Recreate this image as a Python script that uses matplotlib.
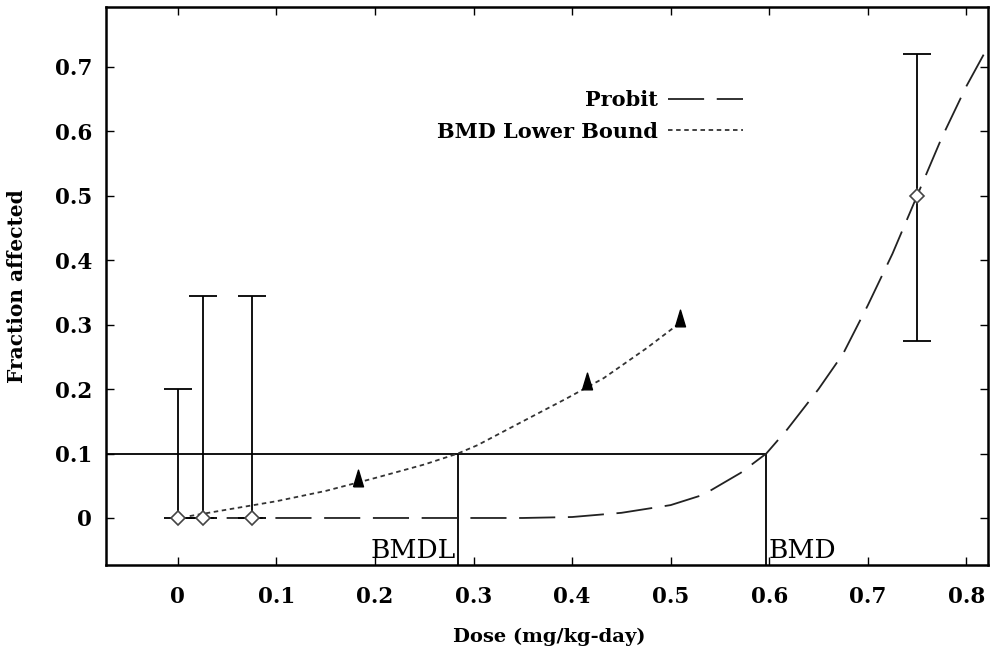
import matplotlib
matplotlib.use("Agg")
import matplotlib.pyplot as plt

# ---- data ----
obs_dose = [0.0, 0.025, 0.075, 0.75]
obs_frac = [0.0, 0.0, 0.0, 0.5]
obs_lower = [0.0, 0.0, 0.0, 0.275]
obs_upper = [0.2, 0.345, 0.345, 0.72]

probit_dose = [0.0, 0.05, 0.1, 0.15, 0.2, 0.25, 0.3, 0.35, 0.4, 0.45, 0.5, 0.533,
               0.571, 0.597, 0.618, 0.65, 0.675, 0.7, 0.725, 0.75, 0.775, 0.8, 0.825]
probit_frac = [0.0, 0.0, 0.0, 0.0, 0.0, 0.0, 0.0, 0.0, 0.0015, 0.008, 0.02, 0.036,
               0.07, 0.1, 0.137, 0.2, 0.255, 0.33, 0.41, 0.5, 0.59, 0.67, 0.74]

lb_dose = [0.012, 0.05, 0.1, 0.15, 0.2, 0.25, 0.284, 0.304, 0.35, 0.395, 0.432, 0.476, 0.507]
lb_frac = [0.003, 0.013, 0.026, 0.042, 0.062, 0.083, 0.1, 0.113, 0.15, 0.186, 0.217, 0.264, 0.3]

tri_dose = [0.183, 0.415, 0.509]
tri_frac = [0.062, 0.212, 0.31]

bmr = 0.1
bmdl = 0.284
bmd = 0.597

xticks = [0, 0.1, 0.2, 0.3, 0.4, 0.5, 0.6, 0.7, 0.8]
xticklabels = ["0", "0.1", "0.2", "0.3", "0.4", "0.5", "0.6", "0.7", "0.8"]
yticks = [0, 0.1, 0.2, 0.3, 0.4, 0.5, 0.6, 0.7]
yticklabels = ["0", "0.1", "0.2", "0.3", "0.4", "0.5", "0.6", "0.7"]

xlim = (-0.073, 0.822)
ylim = (-0.073, 0.793)

plt.rcParams['font.family'] = ['DejaVu Serif']

fig = plt.figure(figsize=(9.93, 6.62), dpi=100)
ax = fig.add_axes([0.1067, 0.1465, 0.8883, 0.8429])
ax.set_xlim(*xlim)
ax.set_ylim(*ylim)

# probit curve
ax.plot(probit_dose, probit_frac, color='#222222', lw=1.3, dashes=(20, 7),
        label='Probit', zorder=3)
# lower bound curve
ax.plot(lb_dose, lb_frac, color='#333333', lw=1.3, dashes=(2.5, 2),
        label='BMD Lower Bound', zorder=3)
tri_marker = [(-0.6, -1.0), (0.6, -1.0), (0.0, 1.0), (-0.6, -1.0)]
ax.plot(tri_dose, tri_frac, linestyle='none', marker=tri_marker, color='black',
        markersize=12, zorder=4)

# observed data with error bars
yerr = [[f - lo for f, lo in zip(obs_frac, obs_lower)],
        [u - f for f, u in zip(obs_frac, obs_upper)]]
ax.errorbar(obs_dose, obs_frac, yerr=yerr, fmt='none', ecolor='black',
            elinewidth=1.3, capsize=10, capthick=1.3, zorder=4)
ax.plot(obs_dose, obs_frac, linestyle='none', marker='D', markersize=7,
        markerfacecolor='white', markeredgecolor='#444444', markeredgewidth=1.2,
        zorder=5)

# BMR / BMD / BMDL lines
ax.hlines(bmr, xlim[0], bmd, color='black', lw=1.3, zorder=2)
ax.vlines([bmdl, bmd], ylim[0], bmr, color='black', lw=1.3, zorder=2)
ax.text(bmdl - 0.002, ylim[0] + 0.011, "BMDL", ha='right', va='baseline', fontsize=19)
ax.text(bmd + 0.002, ylim[0] + 0.011, "BMD", ha='left', va='baseline', fontsize=19)

# ticks
ax.set_xticks(xticks)
ax.set_xticklabels(xticklabels, fontsize=15.5, fontweight='bold')
ax.set_yticks(yticks)
ax.set_yticklabels(yticklabels, fontsize=15.5, fontweight='bold')
ax.tick_params(axis='both', direction='in', top=True, right=True, length=6, width=1)
ax.tick_params(axis='x', pad=15)
ax.tick_params(axis='y', pad=10)
for s in ax.spines.values():
    s.set_linewidth(1.8)

ax.set_xlabel("Dose (mg/kg-day)", fontsize=14, fontweight='bold')
ax.set_ylabel("Fraction affected", fontsize=14.5, fontweight='bold')
ax.xaxis.set_label_coords(0.503, -0.113)
ax.yaxis.set_label_coords(-0.09, 0.5)

leg = ax.legend(loc='upper right', bbox_to_anchor=(0.722, 0.851), frameon=False,
                markerfirst=False, handlelength=3.6, handletextpad=0.5,
                borderaxespad=0, borderpad=0,
                prop={'weight': 'bold', 'size': 15}, labelspacing=0.55)

fig.savefig("out.png", dpi=100)
